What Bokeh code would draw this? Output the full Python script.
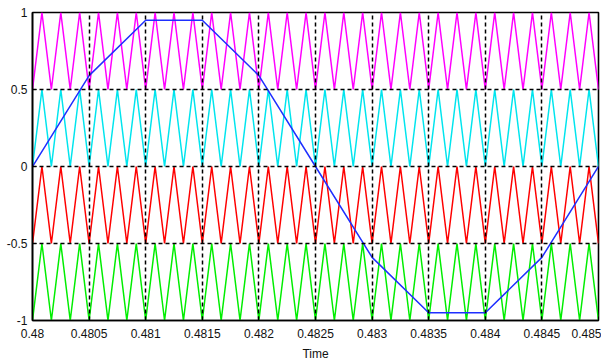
import numpy as np
from bokeh.plotting import figure
from bokeh.models import FixedTicker, Range1d
from bokeh.embed import file_html
from bokeh.resources import INLINE

# ---- data ----
t_start = 0.48
t_end = 0.485
carrier_freq_hz = 6000.0
# carrier bands (low, high) and colours, top to bottom
carrier_low = [0.5, 0.0, -0.5, -1.0]
carrier_high = [1.0, 0.5, 0.0, -0.5]
carrier_colors = ["#ff00ff", "#00e5ee", "#ff0000", "#00ee00"]

# sampled reference (blue), one sample every 0.0005 s
ref_t = [0.48, 0.4805, 0.481, 0.4815, 0.482, 0.4825, 0.483, 0.4835, 0.484, 0.4845, 0.485]
ref_v = [0.0, 0.59, 0.95, 0.95, 0.59, 0.0, -0.59, -0.95, -0.95, -0.59, 0.0]

x_ticks = [0.48, 0.4805, 0.481, 0.4815, 0.482, 0.4825, 0.483, 0.4835, 0.484, 0.4845, 0.485]
x_labels = ["0.48", "0.4805", "0.481", "0.4815", "0.482", "0.4825", "0.483", "0.4835", "0.484", "0.4845", "0.485"]
y_ticks = [-1, -0.5, 0, 0.5, 1]
y_labels = ["-1", "-0.5", "0", "0.5", "1"]

# ---- figure ----
p = figure(width=601, height=364, output_backend="svg", toolbar_location=None,
           x_range=Range1d(t_start, t_end), y_range=Range1d(-1, 1))
p.min_border_left = 32
p.min_border_right = 3
p.min_border_top = 12
p.min_border_bottom = 44
p.background_fill_color = "white"
p.border_fill_color = "white"
p.outline_line_color = "black"
p.outline_line_width = 1.6

# triangular carriers: vertices every half period
n_half = int(round((t_end - t_start) * carrier_freq_hz * 2))
vt = t_start + np.arange(n_half + 1) / (2 * carrier_freq_hz)
for lo, hi, c in zip(carrier_low, carrier_high, carrier_colors):
    vv = [lo if k % 2 == 0 else hi for k in range(n_half + 1)]
    p.line(vt, vv, line_color=c, line_width=1.5)

p.line(ref_t, ref_v, line_color="#1f2fff", line_width=1.5)

font = "Liberation Sans"
for ax in (p.xaxis[0], p.yaxis[0]):
    ax.axis_line_color = "black"
    ax.axis_line_width = 1.6
    ax.major_tick_in = 4
    ax.major_tick_out = 0
    ax.minor_tick_line_color = None
    ax.major_tick_line_color = "black"
    ax.major_label_text_font = font
    ax.major_label_text_font_size = "12px"
    ax.major_label_text_color = "#111111"

p.xaxis.ticker = FixedTicker(ticks=x_ticks)
p.xaxis.major_label_overrides = {v: s for v, s in zip(x_ticks, x_labels)}
p.xaxis.major_label_standoff = 8
p.xaxis.axis_label = "Time"
p.xaxis.axis_label_text_font = font
p.xaxis.axis_label_text_font_style = "normal"
p.xaxis.axis_label_text_font_size = "12px"
p.xaxis.axis_label_standoff = 6
p.xaxis.axis_label_text_color = "#111111"

p.yaxis.ticker = FixedTicker(ticks=y_ticks)
p.yaxis.major_label_overrides = {v: s for v, s in zip(y_ticks, y_labels)}
p.yaxis.major_label_standoff = 5

for g in (p.xgrid[0], p.ygrid[0]):
    g.grid_line_color = "black"
    g.grid_line_dash = "4 3"
    g.grid_line_width = 1.5
    g.level = "overlay"

open("out.html", "w").write(file_html(p, INLINE))
